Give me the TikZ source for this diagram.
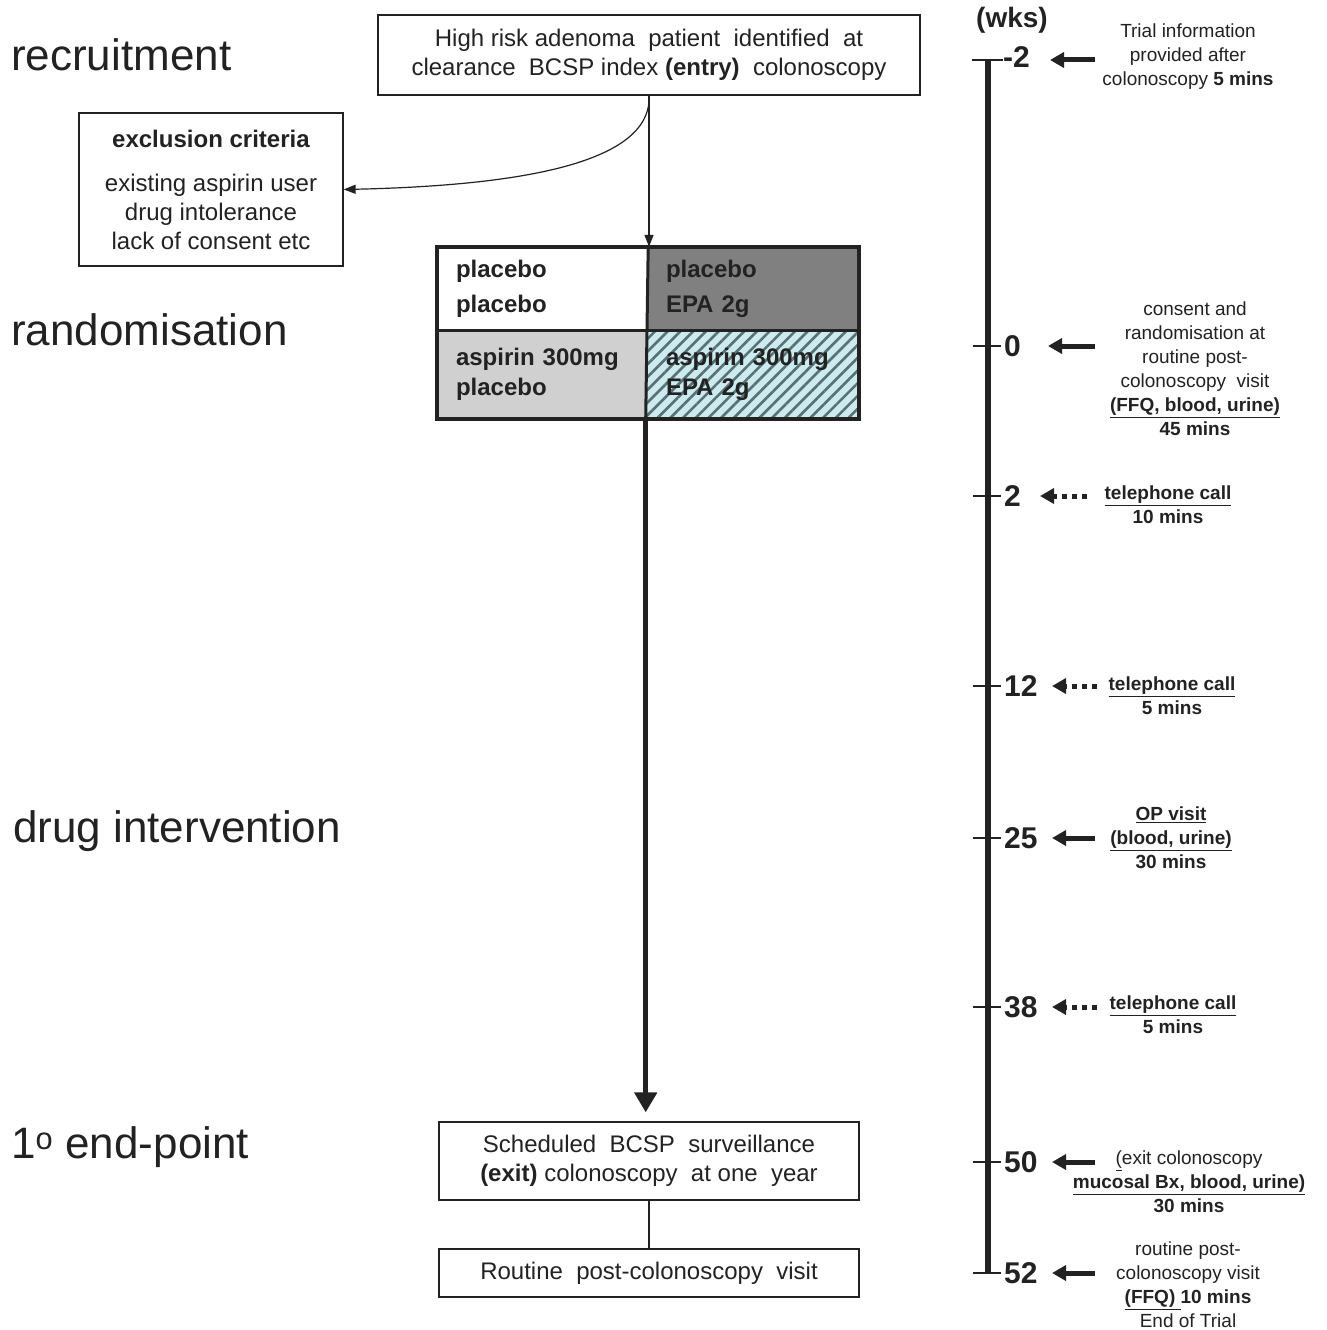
\documentclass[tikz,border=0pt]{standalone}
\usepackage{fontspec}
\setmainfont{Liberation Sans}
\usetikzlibrary{arrows.meta,patterns.meta}
\definecolor{ink}{HTML}{222222}
\definecolor{darkcell}{HTML}{808080}
\definecolor{lightcell}{HTML}{D0D0D0}
\definecolor{cyancell}{HTML}{CBEBEF}
\definecolor{stripe}{HTML}{5A7076}
\begin{document}
\begin{tikzpicture}[x=1pt,y=-1pt,
  every node/.style={text=ink},
  stage/.style={anchor=west, inner sep=0, font=\fontsize{44}{50}\selectfont},
  box/.style={draw=ink, line width=1.3pt, align=center, inner sep=0, font=\fontsize{24}{29}\selectfont},
  cell/.style={inner xsep=19pt, inner ysep=0, align=left, minimum width=211pt, text width=173pt, font=\bfseries\fontsize{24}{35}\selectfont},
  note/.style={align=center, inner sep=0, font=\fontsize{19}{24}\selectfont},
  wk/.style={anchor=west, inner sep=0, font=\bfseries\fontsize{30}{30}\selectfont},
  tickline/.style={draw=ink, line width=1.5pt},
  ev/.style={draw=ink, line width=5pt, -{Triangle[width=15pt,length=14pt]}},
  evd/.style={ev, dash pattern=on 5pt off 5pt},
  thin/.style={draw=ink, line width=1.2pt, -{Triangle[width=9pt,length=12pt]}},
]
\useasboundingbox (0,0) rectangle (1326,1330);

% stage labels
\node[stage] (s1) at (11,55) {recruitment};
\node[stage] (s2) at (11,330) {randomisation};
\node[stage] (s3) at (13,831) {drug intervention};
\node[stage] (s4) at (11,1147) {1\textsuperscript{o} end-point};

% boxes
\node[box, minimum width=542pt, minimum height=80pt] (top) at (649,55)
  {High risk adenoma\ \ patient\ \ identified\ \ at\\clearance\ \ BCSP index \textbf{(entry)}\ \ colonoscopy};
\node[box, minimum width=264pt, minimum height=153pt] (excl) at (211,189.5)
  {\textbf{exclusion criteria}\\[15pt]existing aspirin user\\drug intolerance\\lack of consent etc};
\node[box, minimum width=420pt, minimum height=78pt] (exit) at (649,1161)
  {Scheduled\ \ BCSP\ \ surveillance\\\textbf{(exit)} colonoscopy\ \ at one\ \ year};
\node[box, minimum width=420pt, minimum height=48pt] (post) at (649,1273)
  {Routine\ \ post-colonoscopy\ \ visit};

% randomisation grid
\node[cell, fill=white, minimum height=83pt] (tl) at (542.5,288.5) {placebo\\placebo};
\node[cell, fill=darkcell, minimum height=83pt] (tr) at (752.5,288.5) {placebo\\EPA 2g};
\node[cell, fill=lightcell, minimum height=88pt, font=\bfseries\fontsize{24}{30}\selectfont] (bl) at (542.5,374) {aspirin 300mg\\placebo};
\node[cell, preaction={fill=cyancell}, pattern={Lines[angle=45,distance=9pt,line width=2.6pt]}, pattern color=stripe,
      minimum height=88pt, font=\bfseries\fontsize{24}{30}\selectfont] (br) at (752.5,374) {};
\node[cell, minimum height=88pt, font=\bfseries\fontsize{24}{30}\selectfont] (brt) at (752.5,374) {aspirin 300mg\\EPA 2g};
\draw[ink, line width=3pt] (tl.north east) -- (br.south west);
\draw[ink, line width=3pt] (tl.south west) -- (tr.south east);
\draw[ink, line width=4pt] (tl.north west) rectangle (br.south east);

% connectors
\coordinate (split) at (649,101);
\draw[thin] (top.south) -- (top.south |- tl.north);
\draw[thin] (split) .. controls (645,168) and (500,186) .. (excl.east);
\draw[draw=ink, line width=5pt, -{Triangle[width=22pt,length=20pt]}, shorten >=9pt]
  (br.south west) -- (br.south west |- exit.north);
\draw[draw=ink, line width=1.2pt] (exit.south) -- (post.north);

% timeline
\node[inner sep=0, font=\bfseries\fontsize{28}{30}\selectfont] (wks) at (1012,20) {(wks)};
\coordinate (tstart) at (988,60);
\coordinate (tend) at (988,1273);
\draw[draw=ink, line width=5.5pt] (tstart) -- (tend);
\foreach \y in {346,496,686,838,1007,1162,1273} {\draw[tickline] (973,\y) -- (1001,\y);}
\draw[tickline] (972,60) -- (1003,60);

\node[wk] (w1) at (1003,57) {-2};
\node[wk] (w2) at (1004,346) {0};
\node[wk] (w3) at (1004,496) {2};
\node[wk] (w4) at (1004,686) {12};
\node[wk] (w5) at (1004,838) {25};
\node[wk] (w6) at (1004,1007) {38};
\node[wk] (w7) at (1004,1162) {50};
\node[wk] (w8) at (1004,1273) {52};

\node[note] (n1) at (1188,57) {Trial information\\provided after\\colonoscopy \textbf{5 mins}};
\node[note] (n2) at (1195,369) {consent and\\randomisation at\\routine post-\\colonoscopy\ \ visit\\\textbf{\underline{(FFQ, blood, urine)}}\\\textbf{45 mins}};
\node[note] (n3) at (1168,505) {\textbf{\underline{telephone call}}\\\textbf{10 mins}};
\node[note] (n4) at (1172,696) {\textbf{\underline{telephone call}}\\\textbf{5 mins}};
\node[note] (n5) at (1171,838) {\textbf{\underline{OP visit}}\\\textbf{\underline{(blood, urine)}}\\\textbf{30 mins}};
\node[note] (n6) at (1173,1015) {\textbf{\underline{telephone call}}\\\textbf{5 mins}};
\node[note] (n7) at (1189,1182) {\underline{(}exit colonoscopy\\\textbf{\underline{mucosal Bx, blood, urine)}}\\\textbf{30 mins}};
\node[note] (n8) at (1188,1285) {routine post-\\colonoscopy visit\\\textbf{\underline{(FFQ) }10 mins}\\End of Trial};

\draw[ev] (1095,60) -- (1050,60);
\draw[ev] (1095,346) -- (1048,346);
\draw[evd] (1087,496) -- (1040,496);
\draw[evd] (1097,686) -- (1052,686);
\draw[ev] (1095,838) -- (1052,838);
\draw[evd] (1097,1007) -- (1052,1007);
\draw[ev] (1095,1162) -- (1052,1162);
\draw[ev] (1095,1273) -- (1052,1273);
\end{tikzpicture}
\end{document}
